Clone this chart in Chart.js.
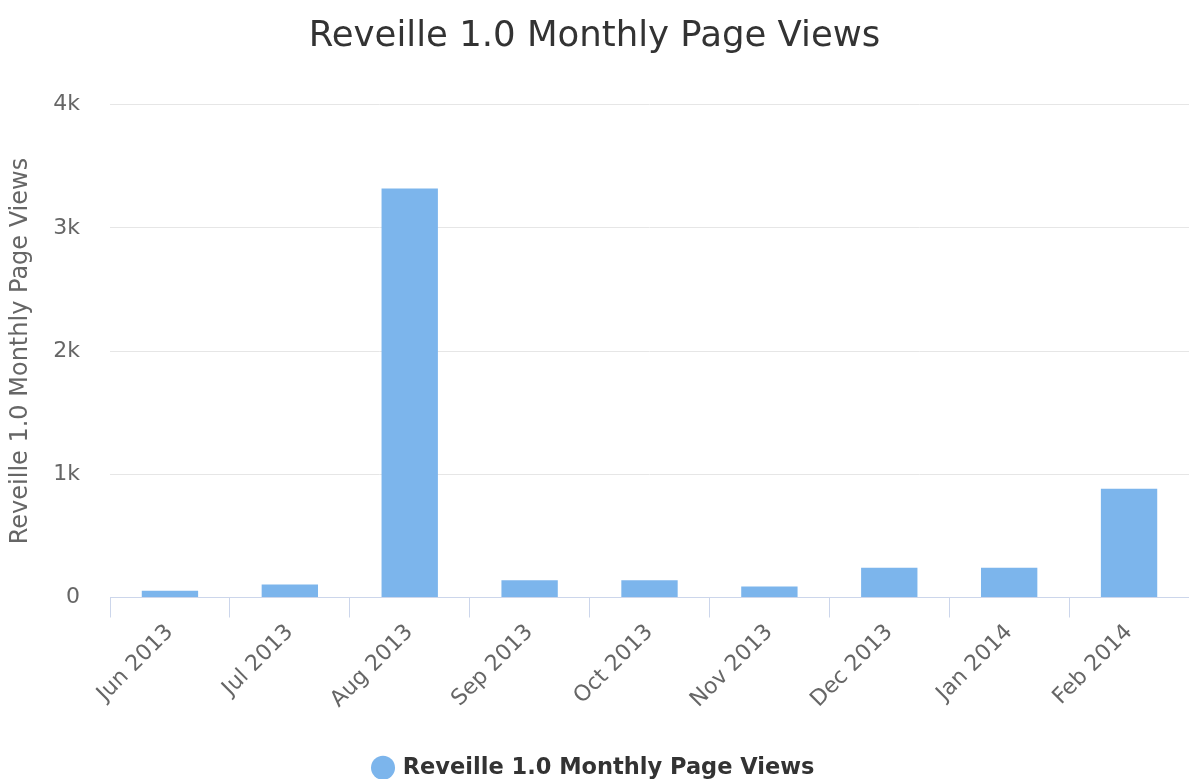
<!DOCTYPE html>
<html>
<head>
<meta charset="utf-8">
<script src="https://cdn.jsdelivr.net/npm/chart.js@4"></script>
<style>
  html, body { margin: 0; padding: 0; background: #fff; }
  #wrap { width: 1189px; height: 779px; }
</style>
</head>
<body>
<div id="wrap"><canvas id="chart"></canvas></div>
<script>
// Données
var months = ['Jun 2013', 'Jul 2013', 'Aug 2013', 'Sep 2013', 'Oct 2013', 'Nov 2013', 'Dec 2013', 'Jan 2014', 'Feb 2014'];
var pageViews = [55, 106, 3320, 140, 140, 90, 242, 242, 882];
var seriesName = 'Reveille 1.0 Monthly Page Views';

var font = 'DejaVu Sans';

// Format des graduations: 0, 1k, 2k...
function formatK(value) {
    return value === 0 ? '0' : (value / 1000) + 'k';
}

var chart = new Chart(document.getElementById('chart'), {
    type: 'bar',
    data: {
        labels: months,
        datasets: [{
            label: seriesName,
            data: pageViews,
            backgroundColor: '#7cb5ec',
            borderWidth: 0,
            barPercentage: 0.94,
            categoryPercentage: 0.5
        }]
    },
    options: {
        responsive: true,
        maintainAspectRatio: false,
        animation: false,
        layout: { padding: { left: 0, right: 0, top: 11, bottom: -10 } },
        plugins: {
            title: {
                display: true,
                text: seriesName,
                color: '#333333',
                font: { family: font, size: 35.5, weight: 'normal' },
                padding: { top: 4, bottom: 47 }
            },
            legend: {
                position: 'bottom',
                labels: {
                    usePointStyle: true,
                    pointStyle: 'circle',
                    boxWidth: 17,
                    boxHeight: 17,
                    color: '#333333',
                    padding: 4,
                    font: { family: font, size: 22.5, weight: 'bold' }
                }
            },
            tooltip: { enabled: false }
        },
        scales: {
            x: {
                // hauteur fixe de l'axe, sans marge gauche ajoutée pour les étiquettes
                afterFit: function (scale) {
                    scale.paddingLeft = 0;
                    scale.paddingRight = 0;
                    scale.height = 155;
                },
                grid: {
                    offset: true,
                    drawOnChartArea: false,
                    color: '#ccd6eb',
                    tickLength: 20
                },
                border: { color: '#ccd6eb', width: 1 },
                ticks: {
                    color: '#666666',
                    minRotation: 45,
                    maxRotation: 45,
                    padding: 2,
                    font: { family: font, size: 22 }
                }
            },
            y: {
                min: 0,
                max: 4000,
                afterFit: function (scale) {
                    scale.width = 110;
                },
                grid: {
                    color: '#e6e6e6',
                    tickLength: 0,
                    drawTicks: false
                },
                border: { display: false },
                ticks: {
                    stepSize: 1000,
                    color: '#666666',
                    padding: 30,
                    callback: formatK,
                    font: { family: font, size: 22 }
                },
                title: {
                    display: true,
                    text: seriesName,
                    color: '#666666',
                    padding: { top: 6, bottom: 10 },
                    font: { family: font, size: 24 }
                }
            }
        }
    }
});
</script>
</body>
</html>
